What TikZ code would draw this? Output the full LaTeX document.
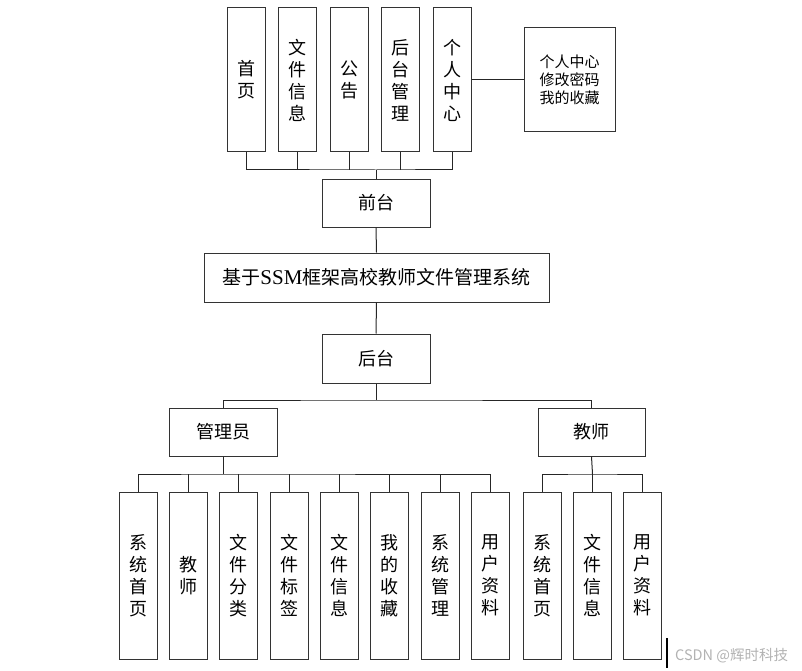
\documentclass[tikz,border=0pt]{standalone}
\usepackage{fontspec}
\setmainfont{Noto Sans CJK SC}
\newfontfamily\latserif{Liberation Serif}
\begin{document}
\begin{tikzpicture}[x=1pt,y=-1pt,
  box/.style={draw=black!80, line width=1pt, fill=white, inner sep=0pt, align=center},
  vbox/.style={box, minimum width=38pt, text width=38pt, font=\fontsize{18}{22}\selectfont},
  topbox/.style={vbox, minimum height=144pt},
  botbox/.style={vbox, minimum height=167pt},
  hbox/.style={box, minimum width=108pt, minimum height=48pt, font=\fontsize{18}{22}\selectfont},
  conn/.style={draw=black!85, line width=1pt}]
\useasboundingbox (0,0) rectangle (802,671);
% top row
\node[topbox] (t1) at (246,80) {首\\页};
\node[topbox] (t2) at (297.5,80) {文\\件\\信\\息};
\node[topbox] (t3) at (349,80) {公\\告};
\node[topbox] (t4) at (400.5,80) {后\\台\\管\\理};
\node[topbox] (t5) at (452.5,80) {个\\人\\中\\心};
\node[box, minimum width=91pt, minimum height=104pt, font=\fontsize{15}{18}\selectfont] (pc) at (569.5,80) {个人中心\\修改密码\\我的收藏};
% middle
\node[hbox] (qt) at (376,203) {前台};
\node[box, minimum width=345pt, minimum height=49pt, font=\fontsize{19}{22}\selectfont] (main) at (376.5,277.5) {基于{\latserif\fontsize{21}{22}\selectfont SSM}框架高校教师文件管理系统};
\node[hbox, minimum height=49pt] (ht) at (376,358.5) {后台};
\node[hbox] (gly) at (223,432) {管理员};
\node[hbox, minimum width=107pt] (js) at (591.5,432) {教师};
% bottom row
\node[botbox] (a1) at (138,575.5) {系\\统\\首\\页};
\node[botbox] (a2) at (188.5,575.5) {教\\师};
\node[botbox] (a3) at (238.5,575.5) {文\\件\\分\\类};
\node[botbox] (a4) at (289,575.5) {文\\件\\标\\签};
\node[botbox] (a5) at (339,575.5) {文\\件\\信\\息};
\node[botbox] (a6) at (389.5,575.5) {我\\的\\收\\藏};
\node[botbox] (a7) at (440,575.5) {系\\统\\管\\理};
\node[botbox] (a8) at (490.5,575.5) {用\\户\\资\\料};
\node[botbox] (b1) at (542,575.5) {系\\统\\首\\页};
\node[botbox] (b2) at (592.5,575.5) {文\\件\\信\\息};
\node[botbox] (b3) at (642.5,575.5) {用\\户\\资\\料};
% connectors
\coordinate (busT) at (376,170);
\draw[conn] (t1.south) |- (busT) -| (t5.south);
\foreach \n in {t2,t3,t4} \draw[conn] (\n.south) -- (\n.south |- busT);
\draw[conn] (busT) -- (qt.north);
\draw[conn] (t5.east) -- (pc.west);
\draw[conn] (qt.south) -- (main.north);
\draw[conn] (main.south) -- (ht.north);
\coordinate (busH) at (376,400);
\draw[conn] (ht.south) -- (busH);
\draw[conn] (gly.north) |- (busH) -| (js.north);
\coordinate (busA) at (223,474);
\draw[conn] (gly.south) -- (busA);
\draw[conn] (a1.north) |- (busA) -| (a8.north);
\foreach \n in {a2,a3,a4,a5,a6,a7} \draw[conn] (\n.north) -- (\n.north |- busA);
\coordinate (busJ) at (592.5,474);
\draw[conn] (js.south) -- (busJ);
\draw[conn] (b1.north) |- (busJ) -| (b3.north);
\draw[conn] (b2.north) -- (busJ);
% watermark
\coordinate (mk1) at (667,638);
\coordinate (mk2) at (667,668);
\draw[line width=2pt, black] (mk1) -- (mk2);
\node[anchor=west, text=black!30, font=\fontsize{14.5}{16}\selectfont, inner sep=0pt] (wm) at (675,656) {CSDN @辉时科技};
\end{tikzpicture}
\end{document}
